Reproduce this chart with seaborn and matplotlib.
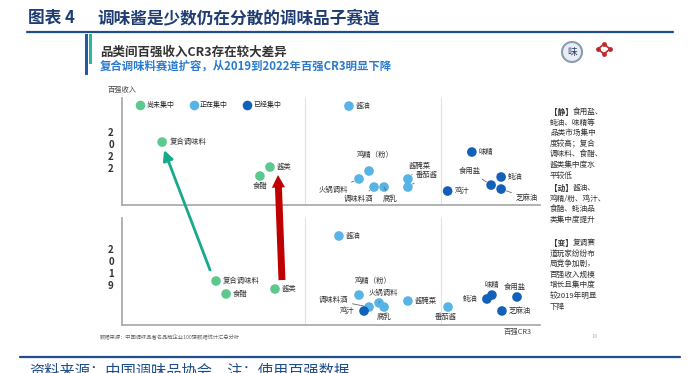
import numpy as np
import pandas as pd
import seaborn as sns
import matplotlib.pyplot as plt
from matplotlib.patches import ConnectionPatch, Circle, Rectangle
from matplotlib.transforms import offset_copy

# 品类 & 集中度状态
categories = ['复合调味料', '食醋', '酱类', '酱油', '鸡精（粉）', '火锅调料', '调味料酒', '腐乳',
              '鸡汁', '酱腌菜', '番茄酱', '蚝油', '味精', '食用盐', '芝麻油']
status = ['尚未集中', '尚未集中', '尚未集中', '正在集中', '正在集中', '正在集中', '正在集中', '正在集中',
          '已经集中', '正在集中', '正在集中', '已经集中', '已经集中', '已经集中', '已经集中']

# 百强CR3 (x) / 百强收入 (y), 读图估计
cr3_2019 = [22.5, 24.9, 36.6, 51.9, 56.7, 61.5, 59.1, 62.7, 57.9, 68.4, 78.0, 87.3, 88.5, 94.5, 90.9]
rev_2019 = [41.1, 29.0, 33.6, 83.2, 28.0, 20.6, 16.8, 16.8, 13.1, 22.4, 16.8, 24.3, 28.0, 26.2, 13.1]
cr3_2022 = [9.6, 33.0, 35.4, 54.3, 59.1, 56.7, 60.3, 62.7, 77.9, 68.4, 68.4, 90.7, 83.7, 88.3, 90.7]
rev_2022 = [60.0, 27.6, 36.2, 94.3, 32.4, 24.8, 17.1, 17.1, 13.3, 24.8, 17.1, 26.7, 50.5, 19.0, 15.2]

levels = ['尚未集中', '正在集中', '已经集中']
palette = {'尚未集中': '#5cc98f', '正在集中': '#58b4e6', '已经集中': '#1260b8'}

notes = [
    ('【静】', ['食用盐、', '蚝油、味精等', '品类市场集中', '度较高；复合', '调味料、食醋、', '酱类集中度水', '平较低']),
    ('【动】', ['酱油、', '鸡精/粉、鸡汁、', '食醋、蚝油品', '类集中度提升']),
    ('【变】', ['复调赛', '道玩家纷纷布', '局竞争加剧，', '百强收入规模', '增长且集中度', '较2019年明显', '下降']),
]
note_top = [112, 188, 243]

# label offsets in pixels (dx, dy down), ha, leader line
lab22 = {'复合调味料': (8, 0, 'left', 0), '食醋': (0, 10, 'center', 0), '酱类': (7, 0, 'left', 0),
         '酱油': (7, 0, 'left', 0), '鸡精（粉）': (6, -16, 'center', 0), '火锅调料': (-26, 11, 'center', 1),
         '调味料酒': (-16, 12, 'center', 1), '腐乳': (6, 12, 'center', 1), '鸡汁': (7, 0, 'left', 0),
         '酱腌菜': (12, -13, 'center', 1), '番茄酱': (19, -12, 'center', 1), '蚝油': (7, 0, 'left', 0),
         '味精': (7, 0, 'left', 0), '食用盐': (-21, -14, 'center', 1), '芝麻油': (26, 9, 'center', 1)}
lab19 = {'复合调味料': (7, 0, 'left', 0), '食醋': (7, 0, 'left', 0), '酱类': (7, 0, 'left', 0),
         '酱油': (7, 0, 'left', 0), '鸡精（粉）': (14, -14, 'center', 0), '火锅调料': (4, -10, 'center', 1),
         '调味料酒': (-36, -7, 'center', 1), '腐乳': (0, 10, 'center', 0), '鸡汁': (-17, 0, 'center', 0),
         '酱腌菜': (7, 0, 'left', 0), '番茄酱': (-2, 10, 'center', 0), '蚝油': (-17, 0, 'center', 0),
         '味精': (0, -10, 'center', 0), '食用盐': (-2, -10, 'center', 0), '芝麻油': (7, 0, 'left', 0)}

sns.set_theme(style='white')
plt.rcParams['font.family'] = ['Noto Sans CJK SC', 'DejaVu Sans']

W, H = 689, 373
fig = plt.figure(figsize=(W / 100, H / 100), dpi=100)


def px_axes(left, top, right, bottom):
    return fig.add_axes([left / W, 1 - bottom / H, (right - left) / W, (bottom - top) / H])


canvas = fig.add_axes([0, 0, 1, 1])
canvas.set_xlim(0, W)
canvas.set_ylim(H, 0)
canvas.axis('off')

ax22 = px_axes(122, 98, 540, 205)
ax19 = px_axes(122, 218, 540, 325)

df22 = pd.DataFrame({'品类': categories, 'cr3': cr3_2022, 'rev': rev_2022, 'status': status})
df19 = pd.DataFrame({'品类': categories, 'cr3': cr3_2019, 'rev': rev_2019, 'status': status})

for ax, df, labs, ymax in [(ax22, df22, lab22, 102), (ax19, df19, lab19, 100)]:
    ax.set_facecolor('none')
    for xv in [43.8, 76.3]:
        ax.axvline(xv, color='#e2e2e2', lw=0.8, zorder=0)
    sns.scatterplot(data=df, x='cr3', y='rev', hue='status', hue_order=levels, palette=palette,
                    s=48, edgecolor='none', ax=ax, legend=(ax is ax22), zorder=3)
    ax.set_xlim(0, 100)
    ax.set_ylim(0, ymax)
    ax.set_xticks([])
    ax.set_yticks([])
    ax.set_xlabel('')
    ax.set_ylabel('')
    for s in ['top', 'right']:
        ax.spines[s].set_visible(False)
    for s in ['left', 'bottom']:
        ax.spines[s].set_color('#a6a6a6')
        ax.spines[s].set_linewidth(1.2)
    for _, r in df.iterrows():
        dx, dy, ha, lead = labs[r['品类']]
        ap = dict(arrowstyle='-', color='#666666', lw=0.6, shrinkA=1, shrinkB=4) if lead else None
        ax.annotate(r['品类'], xy=(r['cr3'], r['rev']), xytext=(dx, -dy), textcoords='offset pixels',
                    ha=ha, va='center', fontsize=5.3, color='#333333', arrowprops=ap, zorder=4)

sns.move_legend(ax22, 'upper left', bbox_to_anchor=(0.02, 1.02), ncol=3, frameon=False, title=None,
                fontsize=5, handletextpad=0.3, columnspacing=2.2, borderpad=0.3, handlelength=1.2)

# arrows between years
green = ConnectionPatch(xyA=(cr3_2019[0], rev_2019[0]), coordsA=offset_copy(ax19.transData, fig=fig, x=-6, y=11, units='dots'),
                        xyB=(cr3_2022[0], rev_2022[0]), coordsB=offset_copy(ax22.transData, fig=fig, x=2, y=-8, units='dots'),
                        arrowstyle='-|>,head_length=0.6,head_width=0.3', mutation_scale=10,
                        color='#16a98a', lw=2, shrinkA=0, shrinkB=0, zorder=5)
fig.add_artist(green)
red = ConnectionPatch(xyA=(cr3_2019[2], rev_2019[2]), coordsA=offset_copy(ax19.transData, fig=fig, x=7, y=9, units='dots'),
                      xyB=(cr3_2022[2], rev_2022[2]), coordsB=offset_copy(ax22.transData, fig=fig, x=8, y=-8, units='dots'),
                      arrowstyle='simple,head_length=0.9,head_width=0.95,tail_width=0.5', mutation_scale=10,
                      color='#c00000', lw=0, shrinkA=0, shrinkB=0, zorder=5)
fig.add_artist(red)

# header
canvas.text(28, 18, '图表 4', fontsize=12, weight='bold', color='#1f3d73', va='center')
canvas.text(97, 18, '调味酱是少数仍在分散的调味品子赛道', fontsize=12, weight='bold', color='#1f3d73', va='center')
canvas.plot([27, 673], [32, 32], color='#1f4e8c', lw=1.6)
canvas.add_patch(Rectangle((85, 34), 2.6, 41, color='#1f5aa6', lw=0))
canvas.add_patch(Rectangle((89, 34), 3, 30, color='#2bb59a', lw=0))
canvas.text(100, 52, '品类间百强收入CR3存在较大差异', fontsize=9, weight='bold', color='#333333', va='center')
canvas.text(100, 66, '复合调味料赛道扩容，从2019到2022年百强CR3明显下降', fontsize=8.2, weight='bold',
            color='#2a7bd0', va='center')

# logos
canvas.add_patch(Circle((572, 52), 10, facecolor='#e9edf3', edgecolor='#8a9bb5', lw=1.5))
canvas.text(572, 52, '味', fontsize=7, color='#2c3e66', ha='center', va='center')
canvas.plot([598, 604, 610, 604, 598], [49, 44, 49, 54, 49], color='#c0282d', lw=1.2)
canvas.scatter([598, 604, 610, 604], [49, 44, 49, 54], s=6, color='#c0282d')

# axis texts
canvas.text(108, 90, '百强收入', fontsize=5.2, color='#444444', va='center')
canvas.text(111, 151, '2\n0\n2\n2', fontsize=7, weight='bold', color='#333333', ha='center', va='center',
            linespacing=1.25)
canvas.text(111, 268, '2\n0\n1\n9', fontsize=7, weight='bold', color='#333333', ha='center', va='center',
            linespacing=1.25)
canvas.text(518, 332, '百强CR3', fontsize=5.3, color='#444444', ha='center', va='center')
canvas.text(100, 336, '数据来源：中国调味品著名品牌企业100强数据统计汇总分析', fontsize=3.8, color='#666666',
            va='center', style='italic')
canvas.text(595, 337, '18', fontsize=4, color='#bbbbbb', ha='center', va='center')

# right notes
for (tag, lines), y in zip(notes, note_top):
    canvas.text(550, y, tag, fontsize=5.5, weight='bold', color='#333333', va='center')
    for i, line in enumerate(lines):
        canvas.text(573 if i == 0 else 550, y, line, fontsize=5.5, color='#333333', va='center')
        y += 10.6

# footer
canvas.plot([20, 680], [357, 357], color='#1f4e8c', lw=1.6)
canvas.text(29, 363, '资料来源：中国调味品协会，注：使用百强数据', fontsize=11, color='#1f4e8c', va='top',
            style='italic')

fig.savefig('out.png', dpi=100)
